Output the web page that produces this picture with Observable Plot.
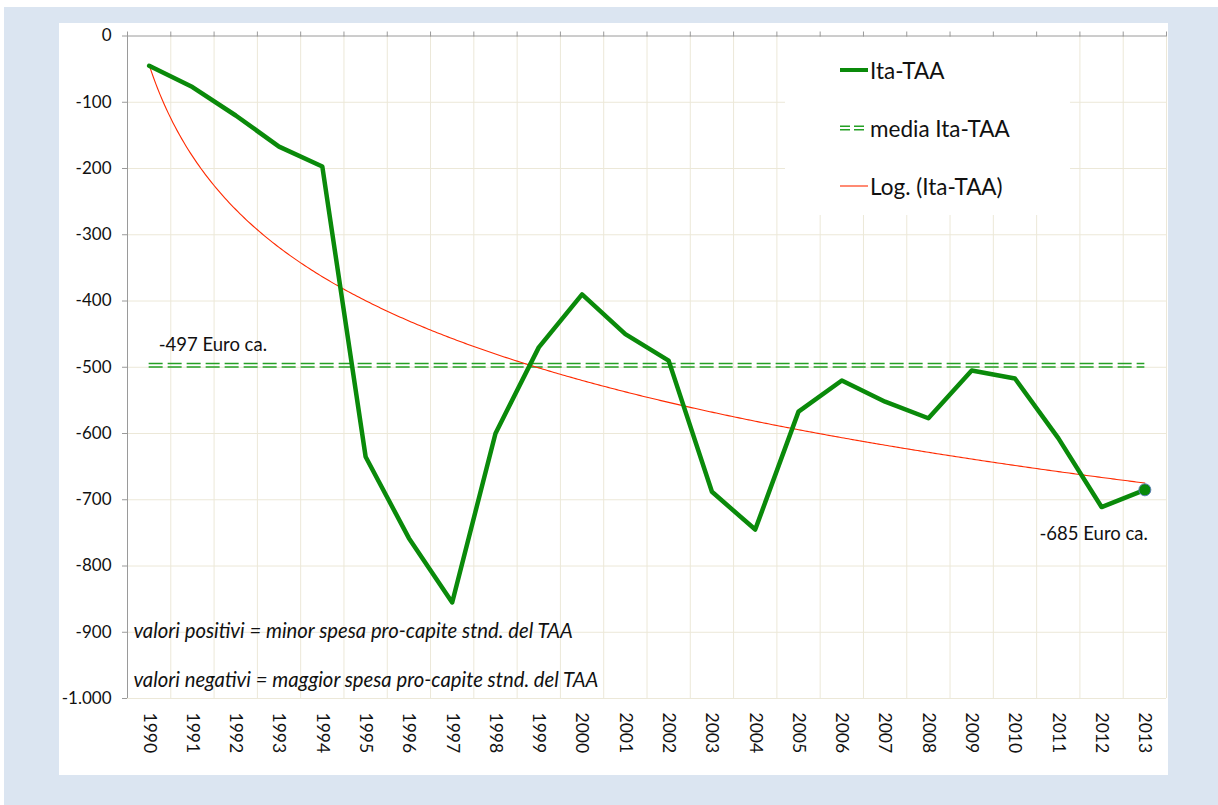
<!DOCTYPE html>
<html><head><meta charset="utf-8">
<script src="https://cdn.jsdelivr.net/npm/d3@7"></script>
<script src="https://cdn.jsdelivr.net/npm/@observablehq/plot@0.6"></script>
<style>
body{margin:0;background:#fff;width:1218px;height:805px;position:relative;overflow:hidden;font-family:Lato,sans-serif}
#bg{position:absolute;left:4px;top:7px;right:0;bottom:0;background:#dbe5f1}
#panel{position:absolute;left:59px;top:23px;width:1109px;height:752px;background:#fff}
#chart{position:absolute;left:0;top:0}
#legend{position:absolute;left:726px;top:14px;width:285px;height:178px;background:#fff}
.row{position:absolute;left:55px;height:30px;display:flex;align-items:center;font-size:22.5px;color:#111;white-space:nowrap}
.row svg{width:28px;height:12px;margin-right:2px}
</style></head><body>
<div id="bg"></div>
<div id="panel"><div id="chart"></div><div id="legend"></div></div>
<script>
// ---- data ----
const years = [1990,1991,1992,1993,1994,1995,1996,1997,1998,1999,2000,2001,2002,2003,2004,2005,2006,2007,2008,2009,2010,2011,2012,2013];
const values = [-45,-77,-120,-167,-197,-635,-758,-855,-600,-470,-390,-450,-490,-688,-745,-567,-520,-552,-577,-505,-517,-607,-711,-685];
const yTicks = [0,-100,-200,-300,-400,-500,-600,-700,-800,-900,-1000];
const seriesName = "Ita-TAA";
const meanName = "media Ita-TAA";
const trendName = "Log. (Ita-TAA)";
const notes = ["valori positivi = minor spesa pro-capite stnd. del TAA",
               "valori negativi = maggior spesa pro-capite stnd. del TAA"];
const euroSuffix = " Euro ca.";

// ---- derived ----
const fmt = d3.formatLocale({decimal:",",thousands:".",grouping:[3],currency:["","€"],minus:"-"}).format(",");
const data = years.map((year,i)=>({year, value: values[i]}));
const mean = d3.mean(values);
const lx = values.map((_,i)=>Math.log(i+1));
const mx = d3.mean(lx);
const slope = d3.sum(lx,(v,i)=>(v-mx)*(values[i]-mean))/d3.sum(lx,v=>(v-mx)**2);
const intercept = mean - slope*mx;
const trend = d3.range(0, years.length-1+1e-9, 0.05).map(t=>({year: years[0]+t, value: intercept + slope*Math.log(t+1)}));
const first = years[0], last = years[years.length-1];
const bounds = [first-0.5, ...years.map(y=>y+0.5)];
const lastPt = data[data.length-1];

const green = "#0a8a0a", meanGreen = "#25a025", red = "#ff2a00", grid = "#ece8d8", axisGray = "#9a9a9a";

const chart = Plot.plot({
  width: 1109, height: 752,
  marginLeft: 68, marginRight: 2, marginTop: 12.5, marginBottom: 77,
  style: {fontFamily: "Lato, sans-serif", fontSize: "17px", color: "#111", background: "transparent"},
  x: {domain: [first-0.5, last+0.5]},
  y: {domain: [-1000, 0]},
  marks: [
    Plot.ruleY(yTicks.filter(v=>v!==0), {stroke: grid, strokeWidth: 1}),
    Plot.ruleX(bounds.slice(1), {y1: 0, y2: -1000, stroke: grid, strokeWidth: 1}),
    Plot.ruleX([bounds[0]], {y1: 0, y2: -1000, stroke: axisGray}),
    Plot.ruleY([0], {stroke: axisGray}),
    Plot.axisY({ticks: yTicks, tickSize: 5, tickPadding: 11, tickFormat: fmt, stroke: axisGray, fill: "#111", fontSize: 17, label: null}),
    Plot.axisX({anchor: "top", ticks: bounds, tickSize: 5, tickFormat: () => "", stroke: axisGray, label: null}),
    Plot.axisX({anchor: "bottom", ticks: years, tickSize: 0, tickPadding: 14, tickRotate: 90, tickFormat: d => String(d), fill: "#111", fontSize: 17.5, label: null}),
    Plot.ruleY([mean], {x1: first, x2: last, stroke: meanGreen, strokeWidth: 1.4, strokeDasharray: "14,5", dy: -1.7}),
    Plot.ruleY([mean], {x1: first, x2: last, stroke: meanGreen, strokeWidth: 1.4, strokeDasharray: "14,5", dy: 1.7}),
    Plot.line(trend, {x: "year", y: "value", stroke: red, strokeWidth: 1.1}),
    Plot.line(data, {x: "year", y: "value", stroke: green, strokeWidth: 4.5}),
    Plot.dot([lastPt], {x: "year", y: "value", r: 6, fill: green, stroke: "#5b7fb5", strokeWidth: 1}),
    Plot.text([{year: first, value: mean}], {x: "year", y: "value", text: d => fmt(Math.round(d.value)) + euroSuffix, textAnchor: "start", dx: 9.5, dy: -20, fontSize: 18.5, fill: "#111"}),
    Plot.text([lastPt], {x: "year", y: "value", text: d => fmt(d.value) + euroSuffix, textAnchor: "end", dx: 3, dy: 44, fontSize: 18.5, fill: "#111"}),
    Plot.text([notes[0]], {frameAnchor: "bottom-left", text: d => d, lineAnchor: "middle", dx: 6, dy: -67, fontSize: 20.3, fontStyle: "italic", fill: "#111"}),
    Plot.text([notes[1]], {frameAnchor: "bottom-left", text: d => d, lineAnchor: "middle", dx: 6, dy: -18, fontSize: 20.3, fontStyle: "italic", fill: "#111"})
  ]
});
document.getElementById("chart").appendChild(chart);

// legend
const legend = document.getElementById("legend");
const rows = [
  {name: seriesName, sample: `<line x1="0" x2="28" y1="6" y2="6" stroke="${green}" stroke-width="4"/>`, top: 18},
  {name: meanName, sample: `<line x1="0" x2="28" y1="4.3" y2="4.3" stroke="${meanGreen}" stroke-width="1.4" stroke-dasharray="10,4"/><line x1="0" x2="28" y1="7.7" y2="7.7" stroke="${meanGreen}" stroke-width="1.4" stroke-dasharray="10,4"/>`, top: 76},
  {name: trendName, sample: `<line x1="0" x2="28" y1="6" y2="6" stroke="${red}" stroke-width="1.1"/>`, top: 134}
];
for (const r of rows) {
  const div = document.createElement("div");
  div.className = "row";
  div.style.top = r.top + "px";
  div.innerHTML = `<svg viewBox="0 0 28 12">${r.sample}</svg><span>${r.name}</span>`;
  legend.appendChild(div);
}
</script>
</body></html>
